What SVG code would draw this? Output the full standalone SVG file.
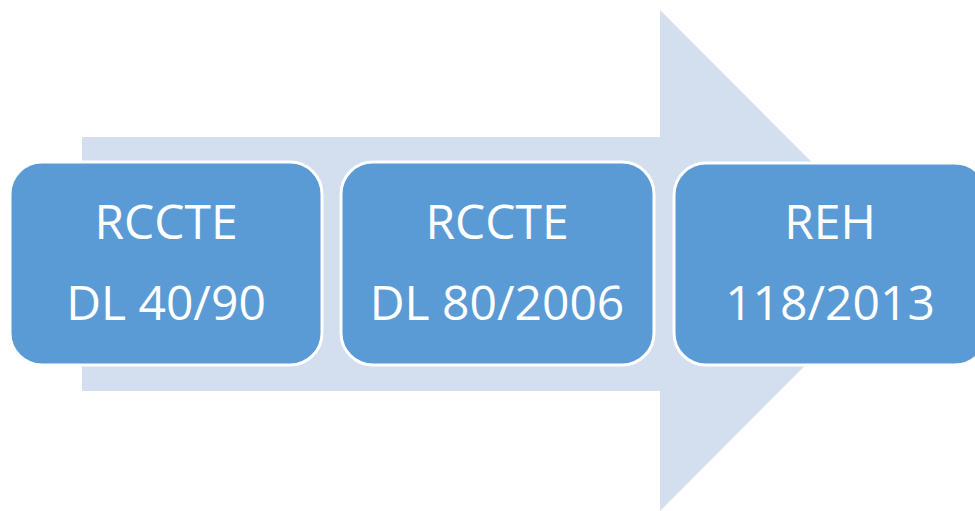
<svg xmlns="http://www.w3.org/2000/svg" width="975" height="511" viewBox="0 0 975 511">
<style>
.box{fill:#5B9BD5;stroke:#FFFFFF;stroke-width:3}
.t{font-family:"Open Sans","Noto Sans",sans-serif;font-size:48px;fill:#FFFFFF;text-anchor:middle}
</style>
<rect width="975" height="511" fill="#FFFFFF"/>
<g id="arrow">
<polygon points="82,137 660,137 660,10 910,260.5 660,511 660,391 82,391" fill="#D3DEEF"/>
</g>
<g id="connectors"></g>
<g id="node1">
<rect class="box" x="10" y="162" width="312" height="203" rx="32" ry="32"/>
<text class="t" x="166" y="239">RCCTE</text>
<text class="t" x="166" y="320">DL 40/90</text>
</g>
<g id="node2">
<rect class="box" x="341" y="162" width="313" height="203" rx="32" ry="32"/>
<text class="t" x="497" y="239">RCCTE</text>
<text class="t" x="497" y="320">DL 80/2006</text>
</g>
<g id="node3">
<rect class="box" x="674" y="163" width="313" height="202" rx="32" ry="32"/>
<text class="t" x="830" y="239">REH</text>
<text class="t" x="830" y="320">118/2013</text>
</g>
</svg>
